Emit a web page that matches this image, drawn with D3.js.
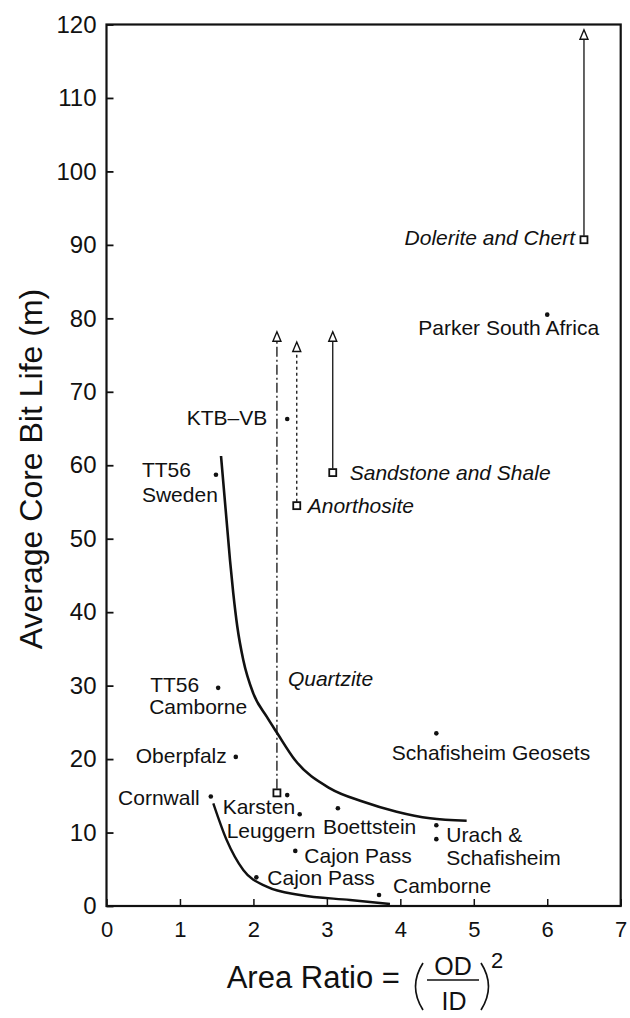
<!DOCTYPE html>
<html><head><meta charset="utf-8">
<script src="https://cdn.jsdelivr.net/npm/d3@7"></script>
<style>
body{margin:0;background:#fff}
svg{display:block}
text{font-family:"Liberation Sans",Arial,Helvetica,sans-serif;fill:#111}
</style>
</head><body>
<svg id="chart" width="630" height="1018"></svg>
<script>
// ---------- data ----------
const xTicks = [0,1,2,3,4,5,6,7];
const yTicks = [0,10,20,30,40,50,60,70,80,90,100,110,120];

// drill sites (dots)
const siteX = [6.0, 2.46, 1.49, 1.52, 1.76, 1.42, 2.63, 3.15, 2.57, 2.04, 3.71, 4.49, 4.49, 4.49, 2.46];
const siteY = [80.5, 66.3, 58.7, 29.7, 20.3, 14.9, 12.5, 13.3, 7.5, 3.9, 1.5, 23.5, 11.0, 9.1, 15.1];
const siteLabels = [["Parker South Africa"],["KTB–VB"],["TT56","Sweden"],["TT56","Camborne"],["Oberpfalz"],
  ["Cornwall"],["Karsten","Leuggern"],["Boettstein"],["Cajon Pass"],["Cajon Pass"],["Camborne"],
  ["Schafisheim Geosets"],[],["Urach &","Schafisheim"],[]];

// rock types (open square = measured, triangle = upper bound)
const rockNames = ["Quartzite","Anorthosite","Sandstone and Shale","Dolerite and Chert"];
const rockX    = [2.32, 2.59, 3.08, 6.5];
const rockLow  = [15.4, 54.5, 59.0, 90.7];
const rockHigh = [77.5, 76.1, 77.5, 118.6];

// trend curves
const upperCurveX = [1.559,1.681,1.726,1.781,1.862,1.998,2.181,2.325,2.566,3.042,3.496,3.950,4.404,4.903];
const upperCurveY = [61.26,47.10,42.57,38.02,33.49,28.95,25.77,23.51,19.87,16.02,14.20,12.84,11.94,11.61];
const lowerCurveX = [1.454,1.636,1.862,2.181,2.634,3.315,3.859];
const lowerCurveY = [13.98,8.98,4.90,2.63,1.50,0.82,0.27];

// ---------- layout (pixel offsets of labels relative to their mark) ----------
const siteLabelLayout = [
  {a:"start", l:[[-129,20.5]]},
  {a:"end",   l:[[-20,6]]},
  {a:"start", l:[[-74,2],[-74,27]]},
  {a:"start", l:[[-68,4],[-69,26]]},
  {a:"end",   l:[[-9,6]]},
  {a:"end",   l:[[-11,8.5]]},
  {a:"start", l:[[-77,0],[-73,23.5]]},
  {a:"start", l:[[-15,26]]},
  {a:"start", l:[[9,12]]},
  {a:"start", l:[[11,8]]},
  {a:"start", l:[[14,-2]]},
  {a:"start", l:[[-44.6,27]]},
  {a:"start", l:[]},
  {a:"start", l:[[10,2.5],[10,26]]},
  {a:"start", l:[]}
];
const rockLabelLayout = [
  {a:"start", dx:11, dy:-107},
  {a:"start", dx:11, dy:7.5},
  {a:"start", dx:17, dy:7.5},
  {a:"end",   dx:-9, dy:5}
];
const rockDash = ["10,3,2,3", "3,3", null, null];

// ---------- chart ----------
const svg = d3.select("#chart");
const L = 106.5, R = 620.7, T = 24.5, B = 906;
const x = d3.scaleLinear().domain([0,7]).range([L,R]);
const y = d3.scaleLinear().domain([0,120]).range([B,T]);

svg.append("rect").attr("width",630).attr("height",1018).attr("fill","#fff");

// axes
const yAxis = d3.axisLeft(y).tickValues(yTicks).tickSizeInner(-7).tickSizeOuter(0).tickPadding(10).tickFormat(d3.format("d"));
const gy = svg.append("g").attr("transform",`translate(${L},0)`).call(yAxis);
gy.select(".domain").remove();
gy.selectAll(".tick line").attr("stroke","#111").attr("stroke-width",1.8);
gy.selectAll(".tick text").attr("font-size",24).attr("font-family","Liberation Sans, Arial, sans-serif").attr("fill","#111");

const xAxis = d3.axisBottom(x).tickValues(xTicks).tickSizeInner(-7).tickSizeOuter(0).tickPadding(15).tickFormat(d3.format("d"));
const gx = svg.append("g").attr("transform",`translate(0,${B})`).call(xAxis);
gx.select(".domain").remove();
gx.selectAll(".tick line").attr("stroke","#111").attr("stroke-width",1.5);
gx.selectAll(".tick text").attr("font-size",22).attr("font-family","Liberation Sans, Arial, sans-serif").attr("fill","#111");

// frame
svg.append("rect").attr("x",L).attr("y",T).attr("width",R-L).attr("height",B-T)
  .attr("fill","none").attr("stroke","#111").attr("stroke-width",2.2);

// curves
const line = d3.line().x(d=>x(d[0])).y(d=>y(d[1])).curve(d3.curveMonotoneX);
svg.append("path").attr("d", line(d3.zip(upperCurveX, upperCurveY)))
  .attr("fill","none").attr("stroke","#111").attr("stroke-width",2.6);
svg.append("path").attr("d", line(d3.zip(lowerCurveX, lowerCurveY)))
  .attr("fill","none").attr("stroke","#111").attr("stroke-width",2.4);

// rock types
rockNames.forEach((name,i)=>{
  const cx = x(rockX[i]);
  const yl = y(rockLow[i]), yh = y(rockHigh[i]);
  const ln = svg.append("line").attr("x1",cx).attr("x2",cx).attr("y1",yl-4).attr("y2",yh+5)
    .attr("stroke","#111").attr("stroke-width",1.3);
  if (rockDash[i]) ln.attr("stroke-dasharray",rockDash[i]);
  svg.append("path").attr("d",`M${cx},${yh-5} L${cx+4},${yh+4.5} L${cx-4},${yh+4.5} Z`)
    .attr("fill","#fff").attr("stroke","#111").attr("stroke-width",1.4);
  svg.append("rect").attr("x",cx-3.5).attr("y",yl-3.5).attr("width",7).attr("height",7)
    .attr("fill","#fff").attr("stroke","#111").attr("stroke-width",1.8);
  const lay = rockLabelLayout[i];
  svg.append("text").attr("x",cx+lay.dx).attr("y",yl+lay.dy).attr("text-anchor",lay.a)
    .attr("font-size",21).attr("font-style","italic").text(name);
});

// sites
siteX.forEach((sx,i)=>{
  const cx = x(sx), cy = y(siteY[i]);
  svg.append("circle").attr("cx",cx).attr("cy",cy).attr("r",2.3).attr("fill","#111");
  const lay = siteLabelLayout[i];
  siteLabels[i].forEach((t,j)=>{
    svg.append("text").attr("x",cx+lay.l[j][0]).attr("y",cy+lay.l[j][1])
      .attr("text-anchor",lay.a).attr("font-size",21).text(t);
  });
});

// axis titles
svg.append("text").attr("transform","translate(42,469) rotate(-90)").attr("text-anchor","middle")
  .attr("font-size",32).text("Average Core Bit Life (m)");

const xt = svg.append("g");
xt.append("text").attr("x",226.7).attr("y",988).attr("font-size",31).text("Area Ratio =");
xt.append("path").attr("d","M423,963 Q408,986.5 423,1010").attr("fill","none").attr("stroke","#111").attr("stroke-width",1.7);
xt.append("text").attr("x",453).attr("y",975).attr("text-anchor","middle").attr("font-size",25).text("OD");
xt.append("line").attr("x1",427).attr("x2",479).attr("y1",980).attr("y2",980).attr("stroke","#111").attr("stroke-width",1.6);
xt.append("text").attr("x",454).attr("y",1010).attr("text-anchor","middle").attr("font-size",25).text("ID");
xt.append("path").attr("d","M481,963 Q496,986.5 481,1010").attr("fill","none").attr("stroke","#111").attr("stroke-width",1.7);
xt.append("text").attr("x",491).attr("y",968).attr("font-size",22).text("2");
</script>
</body></html>
